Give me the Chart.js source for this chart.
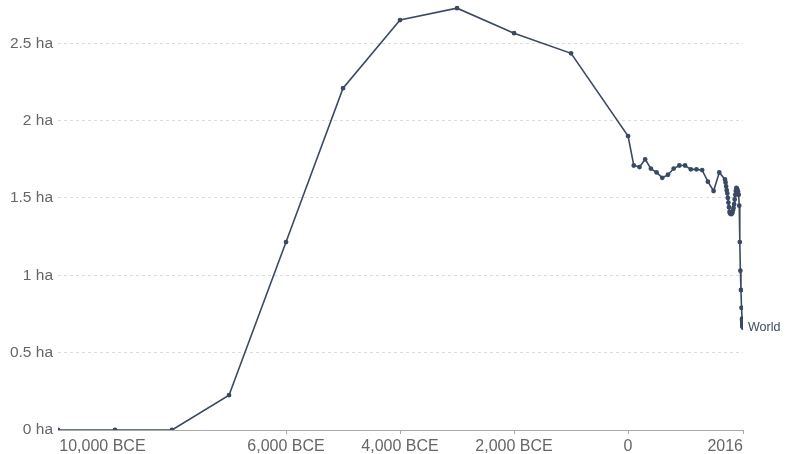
<!DOCTYPE html>
<html>
<head>
<meta charset="utf-8">
<script src="https://cdn.jsdelivr.net/npm/chart.js@4"></script>
<style>
  html, body { margin: 0; padding: 0; background: #fff; }
  #wrap { width: 788px; height: 454px; position: relative; }
</style>
</head>
<body>
<div id="wrap"><canvas id="landChart"></canvas></div>
<script>
// Land use per person (hectares), World
const years = [
    -10000, -9000, -8000, -7000, -6000, -5000, -4000, -3000, -2000, -1000,
    0, 100, 200, 300, 400, 500, 600, 700, 800, 900, 1000, 1100, 1200, 1300,
    1400, 1500, 1600, 1700, 1710, 1720, 1730, 1740, 1750, 1760, 1770, 1780,
    1790, 1800, 1810, 1820, 1830, 1840, 1850, 1860, 1870, 1880, 1890, 1900,
    1910, 1920, 1930, 1940, 1950, 1960, 1970, 1980, 1990, 2000,
    2001, 2002, 2003, 2004, 2005, 2006, 2007, 2008, 2009, 2010,
    2011, 2012, 2013, 2014, 2015, 2016
];
const worldHa = [
    0.0, 0.0, 0.0, 0.225, 1.215, 2.21, 2.65, 2.727, 2.565, 2.435,
    1.90, 1.71, 1.70, 1.75, 1.69, 1.665, 1.63, 1.65, 1.69, 1.71, 1.71, 1.685, 1.685, 1.68,
    1.605, 1.545, 1.665, 1.62, 1.60, 1.575, 1.55, 1.53, 1.50, 1.47, 1.44, 1.41,
    1.40, 1.40, 1.395, 1.40, 1.405, 1.42, 1.435, 1.46, 1.49, 1.52, 1.545, 1.565,
    1.56, 1.55, 1.54, 1.52, 1.45, 1.215, 1.03, 0.905, 0.79, 0.72,
    0.715, 0.71, 0.705, 0.70, 0.695, 0.69, 0.685, 0.682, 0.679, 0.676,
    0.673, 0.67, 0.668, 0.666, 0.664, 0.662
];
const xTicks = [-10000, -6000, -4000, -2000, 0, 2016];
const xTickLabels = ['10,000 BCE', '6,000 BCE', '4,000 BCE', '2,000 BCE', '0', '2016'];
const yTicks = [0, 0.5, 1, 1.5, 2, 2.5];
const seriesName = 'World';

const lineColor = '#3b4a63';
const fontFamily = 'Arial, "Liberation Sans", Helvetica, sans-serif';

// first label sits to the right of its tick, last one to the left
function xLabel(value) {
    const i = xTicks.indexOf(value);
    if (i < 0) return '';
    if (i === 0) return ' '.repeat(20) + xTickLabels[i];
    if (i === xTicks.length - 1) return xTickLabels[i] + ' '.repeat(8);
    return xTickLabels[i];
}

const endLabel = {
    id: 'endLabel',
    afterDatasetsDraw(chart) {
        const meta = chart.getDatasetMeta(0);
        const last = meta.data[meta.data.length - 1];
        const ctx = chart.ctx;
        ctx.save();
        ctx.font = '12.5px ' + fontFamily;
        ctx.fillStyle = lineColor;
        ctx.textAlign = 'left';
        ctx.textBaseline = 'middle';
        ctx.fillText(seriesName, last.x + 5, last.y);
        ctx.restore();
    }
};

const ctx = document.getElementById('landChart').getContext('2d');
new Chart(ctx, {
    type: 'line',
    data: {
        datasets: [{
            label: seriesName,
            data: years.map((y, i) => ({ x: y, y: worldHa[i] })),
            borderColor: lineColor,
            backgroundColor: lineColor,
            borderWidth: 1.6,
            pointRadius: 1.6,
            pointHoverRadius: 3,
            tension: 0
        }]
    },
    options: {
        responsive: true,
        maintainAspectRatio: false,
        animation: false,
        layout: {
            padding: { left: 0, right: 45, top: 2, bottom: 0 }
        },
        plugins: {
            legend: { display: false },
            tooltip: { enabled: false }
        },
        scales: {
            x: {
                type: 'linear',
                min: -10000,
                max: 2016,
                afterBuildTicks: function(scale) {
                    scale.ticks = xTicks.map(v => ({ value: v }));
                },
                afterFit: function(scale) {
                    scale.height = 24;
                    scale.paddingLeft = 0;
                    scale.paddingRight = 0;
                },
                grid: {
                    drawOnChartArea: false,
                    drawTicks: true,
                    tickLength: 4,
                    color: ctx => ctx.index === 0 ? 'rgba(0,0,0,0)' : '#aaa'
                },
                border: { display: true, color: '#aaa', width: 1 },
                ticks: {
                    autoSkip: false,
                    maxRotation: 0,
                    padding: 3,
                    color: '#666',
                    font: { family: fontFamily, size: 16 },
                    callback: function(value) { return xLabel(value); }
                }
            },
            y: {
                min: 0,
                max: 2.75,
                afterBuildTicks: function(scale) {
                    scale.ticks = yTicks.map(v => ({ value: v }));
                },
                afterFit: function(scale) {
                    scale.width = 58;
                    scale.paddingTop = 0;
                    scale.paddingBottom = 0;
                },
                grid: {
                    drawTicks: false,
                    color: '#dcdcdc',
                    lineWidth: 1
                },
                border: { display: false, dash: [3, 3] },
                ticks: {
                    padding: 5,
                    color: '#666',
                    font: { family: fontFamily, size: 15.5 },
                    callback: function(value) { return value + ' ha'; }
                }
            }
        }
    },
    plugins: [endLabel]
});
</script>
</body>
</html>
